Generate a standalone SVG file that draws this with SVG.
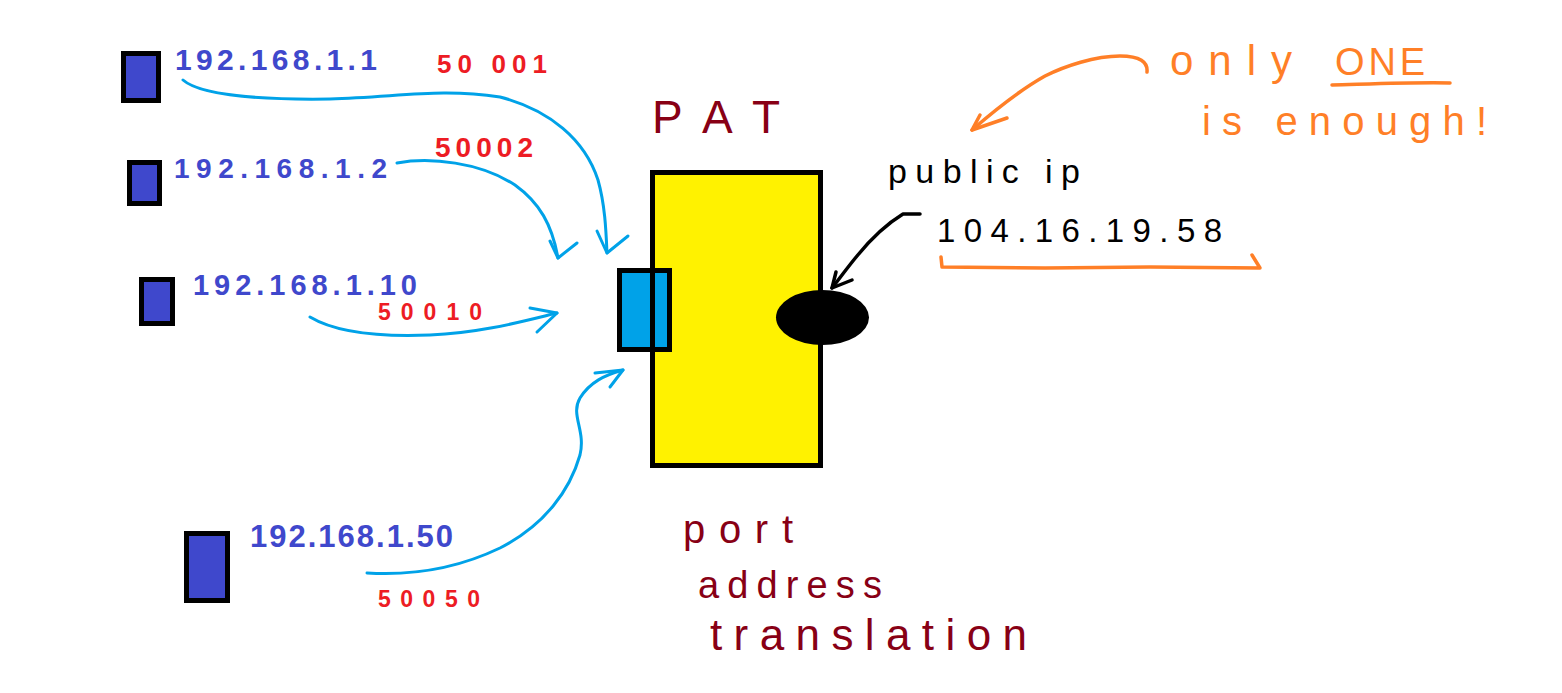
<svg xmlns="http://www.w3.org/2000/svg" width="1562" height="693" viewBox="0 0 1562 693">
<style>
.dev{fill:#3f48cc;stroke:#000;stroke-width:5}
.ip{font-family:"Liberation Sans",Arial,sans-serif;fill:#3f48cc;font-weight:bold}
.port{font-family:"Liberation Sans",Arial,sans-serif;fill:#ed1c24;font-weight:bold}
.dred{font-family:"Liberation Sans",Arial,sans-serif;fill:#880015}
.blk{font-family:"Liberation Sans",Arial,sans-serif;fill:#000}
.org{font-family:"Liberation Sans",Arial,sans-serif;fill:#ff7f27}
.bl{fill:none;stroke:#00a2e8;stroke-width:3;stroke-linecap:round;stroke-linejoin:round}
.ok{fill:none;stroke:#000;stroke-width:3.5;stroke-linecap:round;stroke-linejoin:round}
.oo{fill:none;stroke:#ff7f27;stroke-width:3.5;stroke-linecap:round;stroke-linejoin:round}
</style>
<rect width="1562" height="693" fill="#fff"/>

<g id="host1">
<rect class="dev" x="123.5" y="53.5" width="35" height="47"/>
<text class="ip" x="175" y="70" font-size="30" textLength="202" lengthAdjust="spacing">192.168.1.1</text>
</g>
<g id="host2">
<rect class="dev" x="129.5" y="162.5" width="30" height="41"/>
<text class="ip" x="174" y="178" font-size="28" textLength="213" lengthAdjust="spacing">192.168.1.2</text>
</g>
<g id="host3">
<rect class="dev" x="141.5" y="279.5" width="31" height="44"/>
<text class="ip" x="193" y="295" font-size="29" textLength="224" lengthAdjust="spacing">192.168.1.10</text>
</g>
<g id="host4">
<rect class="dev" x="186.5" y="533.5" width="41" height="67"/>
<text class="ip" x="250" y="547" font-size="31" textLength="203" lengthAdjust="spacing">192.168.1.50</text>
</g>

<g id="router">
<rect x="652.5" y="172.5" width="168" height="293" fill="#fff200" stroke="#000" stroke-width="5"/>
<rect x="619.5" y="270.5" width="50" height="79" fill="#00a2e8" stroke="#000" stroke-width="5"/>
<line x1="652.5" y1="268" x2="652.5" y2="352" stroke="#000" stroke-width="5"/>
<ellipse cx="822.5" cy="317.5" rx="46.5" ry="27.5" fill="#000"/>
<text class="dred" x="652" y="133" font-size="46" textLength="128" lengthAdjust="spacing">PAT</text>
</g>

<g id="labels">
<text class="port" x="437" y="73" font-size="26" textLength="110" lengthAdjust="spacing">50 001</text>
<text class="port" x="435" y="157" font-size="28" textLength="98" lengthAdjust="spacing">50002</text>
<text class="port" x="378" y="320" font-size="23" textLength="104" lengthAdjust="spacing">50010</text>
<text class="port" x="378" y="607" font-size="23" textLength="102" lengthAdjust="spacing">50050</text>
<text class="blk" x="888" y="183" font-size="34" textLength="192" lengthAdjust="spacing">public ip</text>
<text class="blk" x="937" y="242" font-size="33" textLength="285" lengthAdjust="spacing">104.16.19.58</text>
<text class="org" x="1170" y="75" font-size="42" textLength="122" lengthAdjust="spacing">only</text>
<text class="org" x="1335" y="75" font-size="38" textLength="90" lengthAdjust="spacing">ONE</text>
<text class="org" x="1202" y="135" font-size="40" textLength="285" lengthAdjust="spacing">is enough!</text>
<text class="dred" x="683" y="543" font-size="40" textLength="110" lengthAdjust="spacing">port</text>
<text class="dred" x="698" y="598" font-size="38" textLength="184" lengthAdjust="spacing">address</text>
<text class="dred" x="710" y="650" font-size="44" textLength="317" lengthAdjust="spacing">translation</text>
</g>

<g id="connectors">
<path class="bl" d="M183,80 C200,95 260,100 330,99 C400,97 440,88 500,97 C550,110 585,140 598,180 C605,205 606,230 607,253"/>
<path class="bl" d="M597,231 L607,253 L628,236"/>
<path class="bl" d="M397,163 C430,157 480,162 515,185 C540,203 552,225 558,258"/>
<path class="bl" d="M550,241 L558,258 L577,243"/>
<path class="bl" d="M310,317 C335,332 380,337 430,335 C480,333 520,322 557,313"/>
<path class="bl" d="M530,308 L557,313 L537,332"/>
<path class="bl" d="M367,573 C400,575 450,572 500,548 C545,525 570,490 580,455 C586,430 570,415 580,398 C590,382 605,375 623,370"/>
<path class="bl" d="M595,373 L623,370 L610,387"/>
<path class="ok" d="M920,214 L903,214 C885,225 870,240 857,256 C847,268 840,278 832,288"/>
<path class="ok" d="M836,272 L832,288 L852,280"/>
<path class="oo" d="M1147,72 C1148,62 1140,56 1120,56 C1095,56 1065,66 1045,76 C1020,90 995,110 972,130"/>
<path class="oo" d="M980,115 L972,130 L1007,118"/>
<path class="oo" d="M941,257 L942,267 L1045,268 L1150,267 L1260,268 L1252,255"/>
<path class="oo" d="M1332,85 C1370,84 1420,82 1450,83"/>
</g>
</svg>
